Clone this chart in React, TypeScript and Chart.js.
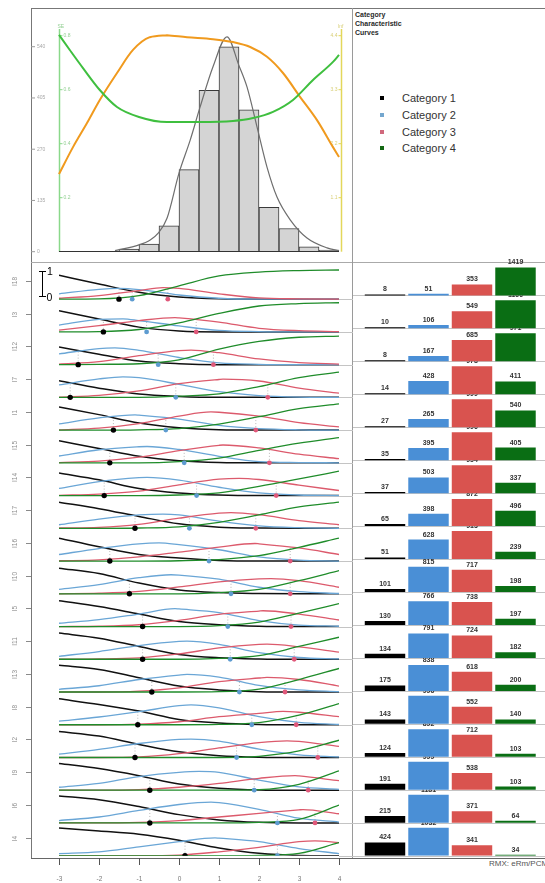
import React, { useEffect, useRef } from 'react';
import { Chart, registerables } from 'chart.js';

Chart.register(...registerables);

const FONT = 'Arial, "Liberation Sans", Helvetica, sans-serif';

// ---------------- top panel data ----------------
const histCenters = [-1.25, -0.75, -0.25, 0.25, 0.75, 1.25, 1.75, 2.25, 2.75, 3.25, 3.75];
const histCounts = [7, 20, 68, 216, 425, 540, 374, 117, 61, 13, 4];
const densityTheta = [-1.6, -1.0, -0.72, -0.52, -0.3, 0, 0.28, 0.53, 0.85, 1.2, 1.5, 1.7, 1.95, 2.2, 2.45, 2.78, 3.2, 3.7, 4.0];
const densityCount = [3, 18, 31, 49, 88, 207, 294, 382, 487, 566, 490, 434, 329, 223, 144, 84, 36, 10, 3];
const seTheta = [-3, -2.73, -2.4, -1.98, -1.55, -1.0, -0.3, 0.53, 1.35, 1.85, 2.35, 2.85, 3.35, 3.85, 4.0];
const seValues = [0.803, 0.747, 0.68, 0.599, 0.536, 0.499, 0.48, 0.48, 0.484, 0.495, 0.518, 0.562, 0.636, 0.703, 0.729];
const infoTheta = [-3, -2.65, -2.3, -1.98, -1.55, -1.15, -0.73, -0.3, 0.2, 0.85, 1.35, 1.78, 2.2, 2.6, 3.03, 3.45, 3.85, 4.0];
const infoValues = [1.58, 2.13, 2.62, 3.09, 3.64, 4.11, 4.37, 4.41, 4.37, 4.33, 4.27, 4.17, 3.97, 3.64, 3.15, 2.68, 2.13, 1.93];
const countTicks = [0, 135, 270, 405, 540];
const seTicks = [0.2, 0.4, 0.6, 0.8];
const infoTicks = [1.1, 2.2, 3.3, 4.4];

// ---------------- item rows ----------------
const itemLabels = ['I18', 'I3', 'I12', 'I7', 'I1', 'I15', 'I14', 'I17', 'I16', 'I10', 'I5', 'I11', 'I13', 'I8', 'I2', 'I9', 'I6', 'I4'];
const thetaGrid = [-3, -2, -1, 0, 1, 2, 3, 4];
const xTicks = [-3, -2, -1, 0, 1, 2, 3, 4];

const cat1Curves = [
  [0.80, 0.51, 0.23, 0.07, 0.01, 0, 0, 0],
  [0.71, 0.43, 0.16, 0.03, 0, 0, 0, 0],
  [0.59, 0.35, 0.12, 0.03, 0, 0, 0, 0],
  [0.56, 0.31, 0.11, 0.03, 0, 0, 0, 0],
  [0.78, 0.52, 0.24, 0.08, 0.01, 0, 0, 0],
  [0.74, 0.48, 0.22, 0.07, 0.01, 0, 0, 0],
  [0.76, 0.53, 0.24, 0.09, 0.02, 0, 0, 0],
  [0.88, 0.66, 0.40, 0.15, 0.04, 0.01, 0, 0],
  [0.77, 0.48, 0.22, 0.10, 0.02, 0, 0, 0],
  [0.86, 0.68, 0.36, 0.13, 0.04, 0.01, 0, 0],
  [0.87, 0.67, 0.42, 0.17, 0.06, 0.01, 0, 0],
  [0.88, 0.71, 0.43, 0.16, 0.05, 0.01, 0, 0],
  [0.90, 0.76, 0.48, 0.20, 0.07, 0.01, 0, 0],
  [0.87, 0.68, 0.46, 0.18, 0.06, 0.01, 0, 0],
  [0.87, 0.72, 0.44, 0.19, 0.06, 0.01, 0, 0],
  [0.90, 0.73, 0.49, 0.21, 0.07, 0.01, 0, 0],
  [0.91, 0.78, 0.55, 0.28, 0.10, 0.02, 0, 0],
  [0.93, 0.83, 0.72, 0.52, 0.26, 0.08, 0.01, 0],
];
const cat2Curves = [
  [0.18, 0.33, 0.32, 0.14, 0.03, 0, 0, 0],
  [0.23, 0.42, 0.38, 0.20, 0.05, 0.01, 0, 0],
  [0.36, 0.54, 0.48, 0.24, 0.06, 0.01, 0, 0],
  [0.42, 0.62, 0.66, 0.44, 0.19, 0.06, 0.01, 0],
  [0.21, 0.41, 0.50, 0.37, 0.16, 0.05, 0.01, 0],
  [0.23, 0.44, 0.54, 0.45, 0.22, 0.04, 0.01, 0],
  [0.24, 0.47, 0.60, 0.52, 0.28, 0.09, 0.02, 0],
  [0.12, 0.31, 0.45, 0.45, 0.24, 0.08, 0.02, 0],
  [0.22, 0.42, 0.58, 0.55, 0.38, 0.14, 0.03, 0],
  [0.15, 0.31, 0.54, 0.63, 0.49, 0.22, 0.07, 0.01],
  [0.11, 0.23, 0.42, 0.59, 0.47, 0.20, 0.05, 0.01],
  [0.10, 0.26, 0.46, 0.60, 0.50, 0.22, 0.06, 0.01],
  [0.09, 0.21, 0.42, 0.57, 0.50, 0.22, 0.07, 0.01],
  [0.12, 0.26, 0.44, 0.64, 0.57, 0.27, 0.08, 0.01],
  [0.11, 0.27, 0.47, 0.61, 0.55, 0.28, 0.09, 0.02],
  [0.10, 0.23, 0.46, 0.60, 0.60, 0.34, 0.11, 0.03],
  [0.08, 0.20, 0.42, 0.62, 0.68, 0.46, 0.16, 0.03],
  [0.07, 0.13, 0.30, 0.47, 0.59, 0.47, 0.24, 0.07],
];
const cat2Peaks = [
  [-1.5, 0.36], [-1.4, 0.44], [-1.6, 0.56], [-1.4, 0.69], [-1.1, 0.51], [-0.8, 0.55],
  [-0.8, 0.61], [-0.4, 0.48], [-0.5, 0.61], [-0.2, 0.64], [-0.1, 0.60], [0.2, 0.61],
  [0.2, 0.59], [0.3, 0.67], [0.3, 0.62], [0.5, 0.63], [0.8, 0.70], [0.9, 0.60],
];
const cat3Curves = [
  [0.03, 0.12, 0.29, 0.36, 0.18, 0.04, 0.01, 0],
  [0.06, 0.21, 0.38, 0.47, 0.33, 0.12, 0.04, 0.01],
  [0.02, 0.10, 0.30, 0.47, 0.40, 0.19, 0.07, 0.02],
  [0.01, 0.07, 0.22, 0.46, 0.60, 0.55, 0.31, 0.14],
  [0.01, 0.07, 0.22, 0.47, 0.60, 0.47, 0.25, 0.11],
  [0.01, 0.06, 0.19, 0.41, 0.59, 0.50, 0.29, 0.14],
  [0.01, 0.05, 0.15, 0.36, 0.55, 0.54, 0.35, 0.17],
  [0.01, 0.03, 0.13, 0.34, 0.51, 0.46, 0.26, 0.12],
  [0.01, 0.04, 0.14, 0.30, 0.47, 0.58, 0.44, 0.22],
  [0, 0.02, 0.08, 0.23, 0.40, 0.50, 0.44, 0.22],
  [0, 0.01, 0.06, 0.21, 0.41, 0.52, 0.42, 0.22],
  [0, 0.01, 0.05, 0.18, 0.38, 0.50, 0.42, 0.24],
  [0, 0, 0.03, 0.14, 0.35, 0.47, 0.42, 0.20],
  [0, 0, 0.02, 0.10, 0.27, 0.38, 0.42, 0.27],
  [0, 0, 0.02, 0.13, 0.32, 0.50, 0.54, 0.37],
  [0, 0, 0.02, 0.10, 0.23, 0.40, 0.48, 0.32],
  [0, 0, 0.02, 0.08, 0.20, 0.32, 0.44, 0.31],
  [0, 0, 0, 0.02, 0.13, 0.28, 0.47, 0.44],
];
const cat3Peaks = [
  [-0.4, 0.39], [-0.1, 0.48], [0.3, 0.49], [1.1, 0.61], [0.8, 0.61], [1.1, 0.60],
  [1.5, 0.58], [1.3, 0.53], [1.9, 0.59], [2.3, 0.51], [2.1, 0.53], [2.2, 0.51],
  [2.2, 0.49], [2.6, 0.45], [2.7, 0.56], [2.9, 0.49], [3.1, 0.45], [3.4, 0.50],
];
const cat4Curves = [
  [0, 0.01, 0.12, 0.45, 0.78, 0.91, 0.96, 0.98],
  [0, 0.01, 0.08, 0.30, 0.62, 0.87, 0.95, 0.98],
  [0, 0.01, 0.03, 0.16, 0.52, 0.78, 0.92, 0.96],
  [0, 0, 0, 0.04, 0.12, 0.36, 0.66, 0.85],
  [0, 0, 0.01, 0.05, 0.20, 0.45, 0.72, 0.88],
  [0, 0, 0, 0.04, 0.16, 0.42, 0.66, 0.85],
  [0, 0, 0, 0.02, 0.09, 0.31, 0.56, 0.82],
  [0, 0, 0.01, 0.05, 0.20, 0.45, 0.72, 0.88],
  [0, 0, 0, 0.01, 0.05, 0.18, 0.46, 0.77],
  [0, 0, 0, 0, 0.04, 0.15, 0.44, 0.78],
  [0, 0, 0, 0, 0.03, 0.15, 0.45, 0.77],
  [0, 0, 0, 0, 0.03, 0.12, 0.43, 0.74],
  [0, 0, 0, 0, 0.01, 0.10, 0.42, 0.79],
  [0, 0, 0, 0, 0.01, 0.07, 0.32, 0.71],
  [0, 0, 0, 0, 0, 0.04, 0.22, 0.58],
  [0, 0, 0, 0, 0, 0.02, 0.20, 0.65],
  [0, 0, 0, 0, 0, 0.02, 0.12, 0.60],
  [0, 0, 0, 0, 0, 0.01, 0.08, 0.44],
];
const cat1Thresholds = [-1.5, -1.89, -2.52, -2.72, -1.64, -1.73, -1.87, -1.1, -1.73, -1.24, -0.91, -0.91, -0.68, -1.03, -1.1, -0.73, -0.73, 0.15];
const cat2Thresholds = [-1.17, -0.81, -0.52, -0.08, -0.33, 0.13, 0.44, 0.26, 0.75, 1.3, 1.22, 1.28, 1.51, 1.82, 1.44, 1.88, 2.46, 2.46];
const cat3Thresholds = [-0.28, 0.43, 0.86, 2.22, 1.92, 2.26, 2.43, 1.92, 2.78, 2.78, 2.8, 2.88, 2.65, 2.93, 3.47, 3.23, 3.4, null];
// heights where the dotted threshold drop-lines end (curve crossing heights)
const cat1CrossHeights = [0.36, 0.41, 0.46, 0.48, 0.43, 0.42, 0.45, 0.43, 0.44, 0.46, 0.41, 0.42, 0.41, 0.44, 0.44, 0.44, 0.46, 0.47];
const cat2CrossHeights = [0.31, 0.36, 0.37, 0.45, 0.40, 0.43, 0.42, 0.39, 0.43, 0.42, 0.42, 0.42, 0.38, 0.33, 0.41, 0.37, 0.35, 0.36];
const cat3CrossHeights = [0.36, 0.42, 0.43, 0.46, 0.45, 0.46, 0.45, 0.45, 0.44, 0.42, 0.42, 0.42, 0.40, 0.38, 0.42, 0.40, 0.40, null];

// ---------------- observed counts ----------------
const categoryLabels = ['Category 1', 'Category 2', 'Category 3', 'Category 4'];
const cat1Counts = [8, 10, 8, 14, 27, 35, 37, 65, 51, 101, 130, 134, 175, 143, 124, 191, 215, 424];
const cat2Counts = [51, 106, 167, 428, 265, 395, 503, 398, 628, 815, 766, 791, 838, 996, 892, 999, 1181, 1032];
const cat3Counts = [353, 549, 685, 978, 999, 996, 954, 872, 913, 717, 738, 724, 618, 552, 712, 538, 371, 341];
const cat4Counts = [1419, 1166, 971, 411, 540, 405, 337, 496, 239, 198, 197, 182, 200, 140, 103, 103, 64, 34];

// ---------------- styling ----------------
const curveColors = ['#111111', '#6aa6d6', '#dc5a6c', '#1f8c2a'];
const dotColors = ['#000000', '#5d9bd0', '#e0587a'];
const barColors = ['#000000', '#4a8fd6', '#d9534f', '#0a6e14'];
const legendColors = ['#000000', '#74a7cf', '#d0687c', '#146814'];

const N_ROWS = itemLabels.length;
const ROW_GAP = 1.1;
const CURVE_Y_MAX = 19.814;
const BAR_ROW = 1063;
const BAR_CAP = 903;
const BAR_Y_MAX = 19470;

const rowBase = (i: number) => (N_ROWS - 1 - i) * ROW_GAP;
const barBase = (i: number) => (N_ROWS - 1 - i) * BAR_ROW;

function curvePoints(values: number[], peak: number[] | null, base: number) {
  const pts = thetaGrid.map((t, k) => ({ x: t, y: base + values[k] }));
  if (peak) pts.push({ x: peak[0], y: base + peak[1] });
  pts.sort((a, b) => a.x - b.x);
  return pts;
}

function makeTop(canvas: HTMLCanvasElement) {
  const decor = {
    id: 'topDecor',
    beforeDatasetsDraw(chart: any) {
      const { ctx, chartArea: a, scales: s } = chart;
      ctx.save();
      ctx.lineWidth = 1;
      ctx.strokeStyle = '#9a9a9a';
      ctx.fillStyle = '#a8a8a8';
      ctx.font = `5px ${FONT}`;
      ctx.textBaseline = 'middle';
      ctx.textAlign = 'left';
      countTicks.forEach((v) => {
        const y = s.y.getPixelForValue(v);
        ctx.beginPath();
        ctx.moveTo(31, y);
        ctx.lineTo(35, y);
        ctx.stroke();
        ctx.fillText(String(v), 37, y);
      });
      const seX = a.left + 0.5;
      ctx.strokeStyle = '#8ad88a';
      ctx.lineWidth = 1.5;
      ctx.beginPath();
      ctx.moveTo(seX, 29);
      ctx.lineTo(seX, a.bottom);
      ctx.stroke();
      ctx.lineWidth = 1;
      ctx.fillStyle = '#93cf93';
      seTicks.forEach((v) => {
        const y = s.ySE.getPixelForValue(v);
        ctx.beginPath();
        ctx.moveTo(seX, y);
        ctx.lineTo(seX + 3, y);
        ctx.stroke();
        ctx.fillText(v.toFixed(1), seX + 4, y);
      });
      ctx.fillText('SE', seX - 2, 27);
      const infX = a.right + 2.5;
      ctx.strokeStyle = '#e3d75a';
      ctx.lineWidth = 1.5;
      ctx.beginPath();
      ctx.moveTo(infX, 29);
      ctx.lineTo(infX, a.bottom);
      ctx.stroke();
      ctx.lineWidth = 1;
      ctx.fillStyle = '#d8cf78';
      ctx.textAlign = 'right';
      infoTicks.forEach((v) => {
        const y = s.yInfo.getPixelForValue(v);
        ctx.beginPath();
        ctx.moveTo(infX, y);
        ctx.lineTo(infX - 3, y);
        ctx.stroke();
        ctx.fillText(v.toFixed(1), infX - 4, y);
      });
      ctx.fillText('Inf', infX + 2, 27);
      ctx.restore();
    },
    afterDatasetsDraw(chart: any) {
      const { ctx, chartArea: a, scales: s } = chart;
      const y = Math.round(s.y.getPixelForValue(0)) - 0.5;
      ctx.save();
      ctx.strokeStyle = '#333';
      ctx.lineWidth = 1;
      ctx.beginPath();
      ctx.moveTo(a.left, y);
      ctx.lineTo(a.right, y);
      ctx.stroke();
      ctx.restore();
    },
  };
  return new Chart(canvas, {
    type: 'bar',
    data: {
      datasets: [
        {
          type: 'line', label: 'SE', yAxisID: 'ySE', order: 1, clip: false,
          data: seTheta.map((x, i) => ({ x, y: seValues[i] })),
          borderColor: '#3fbf3f', borderWidth: 2, pointRadius: 0, cubicInterpolationMode: 'monotone',
        } as any,
        {
          type: 'line', label: 'Information', yAxisID: 'yInfo', order: 2, clip: false,
          data: infoTheta.map((x, i) => ({ x, y: infoValues[i] })),
          borderColor: '#f09a1e', borderWidth: 2, pointRadius: 0, cubicInterpolationMode: 'monotone',
        } as any,
        {
          type: 'line', label: 'Density', yAxisID: 'y', order: 3, clip: false,
          data: densityTheta.map((x, i) => ({ x, y: densityCount[i] })),
          borderColor: '#6e6e6e', borderWidth: 1.2, pointRadius: 0, cubicInterpolationMode: 'monotone',
        } as any,
        {
          type: 'bar', label: 'Persons', yAxisID: 'y', order: 4,
          data: histCenters.map((x, i) => ({ x, y: histCounts[i] })),
          backgroundColor: '#d4d4d4', borderColor: '#3a3a3a', borderWidth: 1,
          barPercentage: 1, categoryPercentage: 1,
        } as any,
      ],
    },
    options: {
      animation: false,
      responsive: false,
      devicePixelRatio: 1,
      layout: { padding: { left: 59, right: 14, top: 35.7, bottom: 10.3 } },
      plugins: { legend: { display: false }, tooltip: { enabled: false } },
      scales: {
        x: { type: 'linear', min: -3, max: 4, offset: false, display: false, ticks: { stepSize: 1 } },
        y: { type: 'linear', min: 0, max: 569, display: false },
        ySE: { type: 'linear', min: 0, max: 0.8, display: false },
        yInfo: { type: 'linear', min: 0, max: 4.4, display: false },
      },
    } as any,
    plugins: [decor],
  });
}

function makeCurves(canvas: HTMLCanvasElement) {
  const datasets: any[] = [];
  const curveSets = [cat1Curves, cat2Curves, cat3Curves, cat4Curves];
  const peakSets = [null, cat2Peaks, cat3Peaks, null];
  const orders = [4, 3, 2, 1];
  itemLabels.forEach((_, i) => {
    const base = rowBase(i);
    curveSets.forEach((set, c) => {
      const peaks = peakSets[c];
      datasets.push({
        type: 'line',
        label: `${itemLabels[i]} ${categoryLabels[c]}`,
        data: curvePoints(set[i], peaks ? peaks[i] : null, base),
        borderColor: curveColors[c],
        borderWidth: c === 0 ? 1.5 : 1.3,
        pointRadius: 0,
        cubicInterpolationMode: 'monotone',
        order: orders[c],
      });
    });
  });
  const thresholdSets = [cat1Thresholds, cat2Thresholds, cat3Thresholds];
  const crossSets = [cat1CrossHeights, cat2CrossHeights, cat3CrossHeights];
  thresholdSets.forEach((set, c) => {
    const drop: any[] = [];
    set.forEach((t, i) => {
      const h = crossSets[c][i];
      if (t === null || h === null) return;
      drop.push({ x: t, y: rowBase(i) }, { x: t, y: rowBase(i) + h }, { x: t, y: null });
    });
    datasets.push({
      type: 'line',
      label: `drop ${c + 1}`,
      data: drop,
      borderColor: '#b8b8b8',
      borderWidth: 1,
      borderDash: [1, 2],
      pointRadius: 0,
      spanGaps: false,
      order: 5,
    });
  });
  thresholdSets.forEach((set, c) => {
    const pts: any[] = [];
    set.forEach((t, i) => {
      if (t !== null) pts.push({ x: t, y: rowBase(i) });
    });
    datasets.push({
      type: 'scatter',
      label: `threshold ${c + 1}`,
      data: pts,
      showLine: false,
      pointRadius: c === 0 ? 2.7 : 2.4,
      pointBackgroundColor: dotColors[c],
      pointBorderWidth: 0,
      order: 0,
    });
  });

  const decor = {
    id: 'curveDecor',
    beforeDatasetsDraw(chart: any) {
      const { ctx, chartArea: a, scales: s } = chart;
      ctx.save();
      ctx.strokeStyle = '#c4c4c4';
      ctx.lineWidth = 1;
      itemLabels.forEach((_, i) => {
        const y = Math.round(s.y.getPixelForValue(rowBase(i))) + 0.5;
        ctx.beginPath();
        ctx.moveTo(a.right, y);
        ctx.lineTo(chart.width, y);
        ctx.stroke();
      });
      ctx.restore();
    },
    afterDraw(chart: any) {
      const { ctx, scales: s } = chart;
      ctx.save();
      ctx.strokeStyle = '#8a8a8a';
      ctx.fillStyle = '#8f8f8f';
      ctx.lineWidth = 1;
      ctx.font = `6.5px ${FONT}`;
      ctx.textAlign = 'center';
      ctx.textBaseline = 'middle';
      itemLabels.forEach((lab, i) => {
        const y = Math.round(s.y.getPixelForValue(rowBase(i) + 0.61)) + 0.5;
        ctx.beginPath();
        ctx.moveTo(26, y);
        ctx.lineTo(31, y);
        ctx.stroke();
        ctx.save();
        ctx.translate(15, y);
        ctx.rotate(-Math.PI / 2);
        ctx.fillText(lab, 0, 0);
        ctx.restore();
      });
      ctx.strokeStyle = '#555';
      ctx.fillStyle = '#777';
      ctx.font = `6.5px ${FONT}`;
      xTicks.forEach((t) => {
        const x = Math.round(s.x.getPixelForValue(t)) + 0.5;
        ctx.beginPath();
        ctx.moveTo(x, 596);
        ctx.lineTo(x, 603);
        ctx.stroke();
        ctx.fillText(String(t), x, 617);
      });
      ctx.restore();
    },
  };

  return new Chart(canvas, {
    type: 'line',
    data: { datasets },
    options: {
      animation: false,
      responsive: false,
      devicePixelRatio: 1,
      layout: { padding: { left: 59, right: 14, top: 0, bottom: 29.3 } },
      plugins: { legend: { display: false }, tooltip: { enabled: false } },
      scales: {
        x: { type: 'linear', min: -3, max: 4, display: false, ticks: { stepSize: 1 } },
        y: { type: 'linear', min: 0, max: CURVE_Y_MAX, display: false },
      },
    } as any,
    plugins: [decor],
  });
}

function makeBars(canvas: HTMLCanvasElement) {
  const countSets = [cat1Counts, cat2Counts, cat3Counts, cat4Counts];
  const datasets = countSets.map((counts, c) => ({
    type: 'bar',
    label: categoryLabels[c],
    data: counts.map((v, i) => ({ x: categoryLabels[c], y: [barBase(i), barBase(i) + Math.min(v, BAR_CAP)] })),
    backgroundColor: barColors[c],
    borderWidth: 0,
    grouped: false,
    barPercentage: 0.93,
    categoryPercentage: 1,
    minBarLength: 1,
  }));

  const decor = {
    id: 'barDecor',
    beforeDatasetsDraw(chart: any) {
      const { ctx, scales: s } = chart;
      ctx.save();
      ctx.strokeStyle = '#c4c4c4';
      ctx.lineWidth = 1;
      itemLabels.forEach((_, i) => {
        const y = Math.round(s.y.getPixelForValue(barBase(i))) + 0.5;
        ctx.beginPath();
        ctx.moveTo(0, y);
        ctx.lineTo(chart.width, y);
        ctx.stroke();
      });
      ctx.restore();
    },
    afterDatasetsDraw(chart: any) {
      const { ctx, scales: s } = chart;
      ctx.save();
      ctx.font = `bold 7px ${FONT}`;
      ctx.fillStyle = '#333';
      ctx.textAlign = 'center';
      ctx.textBaseline = 'middle';
      countSets.forEach((counts, c) => {
        const meta = chart.getDatasetMeta(c);
        counts.forEach((v, i) => {
          const el = meta.data[i];
          if (!el) return;
          const bottom = s.y.getPixelForValue(barBase(i));
          const top = i === 0 ? 0 : s.y.getPixelForValue(barBase(i - 1));
          ctx.save();
          ctx.beginPath();
          ctx.rect(0, top, chart.width, bottom - top);
          ctx.clip();
          ctx.fillText(String(v), el.x, el.y - 5);
          ctx.restore();
        });
      });
      ctx.restore();
    },
  };

  return new Chart(canvas, {
    type: 'bar',
    data: { labels: categoryLabels, datasets: datasets as any },
    options: {
      animation: false,
      responsive: false,
      devicePixelRatio: 1,
      layout: { padding: { left: 10.25, right: 7.75, top: 0, bottom: 2.3 } },
      plugins: { legend: { display: false }, tooltip: { enabled: false } },
      scales: {
        x: { type: 'category', display: false },
        y: { type: 'linear', min: 0, max: BAR_Y_MAX, display: false },
      },
    } as any,
    plugins: [decor],
  });
}

const line = (left: number, top: number, width: number, height: number, color: string) => (
  <div style={{ position: 'absolute', left, top, width, height, background: color }} />
);

export default function App() {
  const topRef = useRef<HTMLCanvasElement>(null);
  const curveRef = useRef<HTMLCanvasElement>(null);
  const barRef = useRef<HTMLCanvasElement>(null);

  useEffect(() => {
    const charts = [
      makeTop(topRef.current as HTMLCanvasElement),
      makeCurves(curveRef.current as HTMLCanvasElement),
      makeBars(barRef.current as HTMLCanvasElement),
    ];
    return () => charts.forEach((c) => c.destroy());
  }, []);

  return (
    <div style={{ position: 'absolute', left: 0, top: 0, width: 545, height: 883, background: '#fff', overflow: 'hidden', fontFamily: FONT }}>
      {line(31, 8, 514, 1, '#777')}
      {line(31, 8, 1, 851, '#777')}
      {line(31, 262, 514, 1, '#aaa')}
      {line(352, 8, 1, 850, '#9a9a9a')}
      {line(31, 858, 514, 1, '#666')}

      <canvas ref={topRef} width={353} height={262} style={{ position: 'absolute', left: 0, top: 0 }} />
      <canvas ref={curveRef} width={353} height={623} style={{ position: 'absolute', left: 0, top: 262 }} />
      <canvas ref={barRef} width={192} height={606} style={{ position: 'absolute', left: 353, top: 252 }} />

      <div style={{ position: 'absolute', left: 355, top: 11, fontSize: 7, lineHeight: '8.8px', fontWeight: 'bold', color: '#2a2a2a' }}>
        Category<br />Characteristic<br />Curves
      </div>
      {categoryLabels.map((lab, c) => (
        <div key={lab} style={{ position: 'absolute', left: 380, top: 98.3 + c * 16.7 - 7, height: 14, display: 'flex', alignItems: 'center' }}>
          <div style={{ width: 4, height: 4, background: legendColors[c] }} />
          <div style={{ marginLeft: 18, fontSize: 11, color: '#333', whiteSpace: 'nowrap' }}>{lab}</div>
        </div>
      ))}

      {line(42, 271, 1, 26, '#000')}
      {line(39, 271, 7, 1, '#000')}
      {line(39, 296, 7, 1, '#000')}
      <div style={{ position: 'absolute', left: 47, top: 264, fontSize: 10.5, lineHeight: '14px', color: '#000' }}>1</div>
      <div style={{ position: 'absolute', left: 46.5, top: 290, fontSize: 10.5, lineHeight: '14px', color: '#000' }}>0</div>

      <div style={{ position: 'absolute', left: 489, top: 859, fontSize: 8, lineHeight: '10px', color: '#555', whiteSpace: 'nowrap' }}>RMX: eRm/PCM</div>
    </div>
  );
}
